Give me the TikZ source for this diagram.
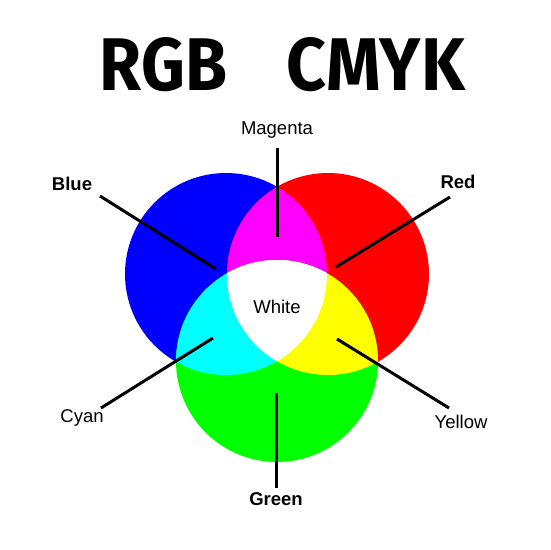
\documentclass[tikz,border=0pt]{standalone}
\usepackage{fontspec}
\setmainfont{Liberation Sans}
\newfontfamily\titlefont{Fira Sans}
\definecolor{pureblue}{RGB}{0,0,255}
\definecolor{purered}{RGB}{255,0,0}
\definecolor{puregreen}{RGB}{0,255,0}
\definecolor{puremagenta}{RGB}{255,0,255}
\definecolor{purecyan}{RGB}{0,255,255}
\definecolor{pureyellow}{RGB}{255,255,0}
\tikzset{
    lbl/.style={font=\fontsize{18.5}{22}\selectfont},
    bold lbl/.style={lbl,font=\fontsize{18.5}{22}\selectfont\bfseries},
    pointer/.style={line width=3pt}
}
\begin{document}
\begin{tikzpicture}[x=1pt,y=-1pt]
        \useasboundingbox (0,0) rectangle (550,550);
        % title
        \node (rgb) at (163.5,65) {\resizebox{127pt}{53pt}{\titlefont\bfseries RGB}};
        \node (cmyk) at (376,65) {\resizebox{178pt}{53pt}{\titlefont\bfseries CMYK}};
        % circle centres
        \coordinate (cB) at (226,274);
        \coordinate (cR) at (328,274);
        \coordinate (cG) at (277,361);
        \fill[pureblue] (cB) circle[radius=101pt];
        \fill[purered] (cR) circle[radius=101pt];
        \fill[puregreen] (cG) circle[radius=101pt];
        \begin{scope}
            \clip (cB) circle[radius=101pt];
            \fill[puremagenta] (cR) circle[radius=101pt];
            \fill[purecyan] (cG) circle[radius=101pt];
        \end{scope}
        \begin{scope}
            \clip (cR) circle[radius=101pt];
            \clip (cG) circle[radius=101pt];
            \fill[pureyellow] (100,150) rectangle (450,480);
            \clip (cB) circle[radius=101pt];
            \fill[white] (100,150) rectangle (450,480);
        \end{scope}
        % labels
        \node[lbl] (white) at (277,307) {White};
        \node[lbl] (magenta) at (277,130) {Magenta};
        \node[bold lbl] (bluelbl) at (72,184) {Blue};
        \node[bold lbl] (redlbl) at (458,182) {Red};
        \node[lbl] (cyanlbl) at (82,418) {Cyan};
        \node[lbl] (yellowlbl) at (461,422) {Yellow};
        \node[bold lbl] (greenlbl) at (276,499) {Green};
        % pointer ends
        \coordinate (m1) at (277,148);  \coordinate (m2) at (277,237);
        \coordinate (b1) at (100,196);  \coordinate (b2) at (216,269);
        \coordinate (r1) at (450,197);  \coordinate (r2) at (336,267);
        \coordinate (c1) at (101,408);  \coordinate (c2) at (213,338);
        \coordinate (y1) at (449,408);  \coordinate (y2) at (337,339);
        \coordinate (g1) at (276,393);  \coordinate (g2) at (276,488);
        \foreach \a/\b in {m1/m2,b1/b2,r1/r2,c1/c2,y1/y2,g1/g2}
            \draw[pointer] (\a) -- (\b);
    \end{tikzpicture}
\end{document}
